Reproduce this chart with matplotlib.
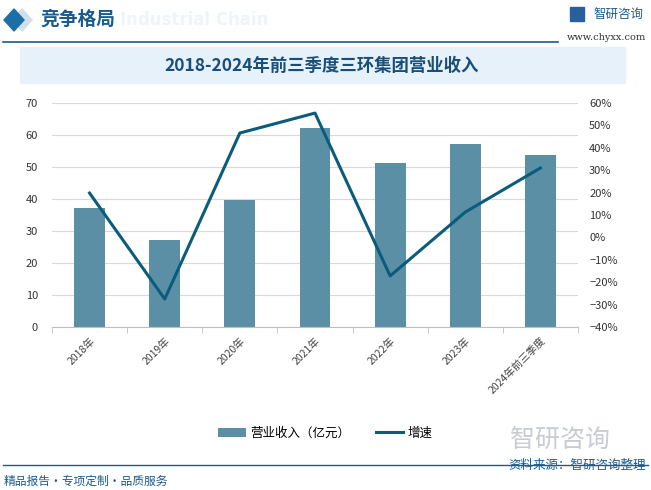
import numpy as np
import matplotlib.pyplot as plt
from matplotlib.patches import Rectangle, Polygon
from matplotlib.ticker import FuncFormatter

plt.rcParams['font.family'] = ['Noto Sans CJK SC', 'DejaVu Sans']
plt.rcParams['axes.unicode_minus'] = True

# 数据
years = ['2018年', '2019年', '2020年', '2021年', '2022年', '2023年', '2024年前三季度']
revenue = [37.2, 27.2, 39.7, 62.2, 51.3, 57.2, 53.8]
growth = [19.8, -27.5, 46.6, 55.5, -17.2, 11.3, 31.0]

bar_color = '#5b8fa6'
line_color = '#0b5c7c'
dark_blue = '#1a5b8c'

fig = plt.figure(figsize=(6.51, 4.9), dpi=100)

# 顶部标题栏
fig.patches.append(Polygon([[12/651, 1-20/490], [22/651, 1-9/490], [32/651, 1-20/490], [22/651, 1-31/490]],
                           closed=True, transform=fig.transFigure, color='#cfe0ec', zorder=1))
fig.patches.append(Polygon([[4/651, 1-20/490], [14/651, 1-9/490], [24/651, 1-20/490], [14/651, 1-31/490]],
                           closed=True, transform=fig.transFigure, color='#1b6fa6', zorder=2))
fig.text(40/651, 1-19/490, '竞争格局', fontsize=13.5, color=dark_blue, va='center', ha='left', fontweight='bold')
fig.text(120/651, 1-20/490, 'Industrial Chain', fontsize=12, color='#edf4fa', va='center', ha='left',
         fontweight='bold', family='DejaVu Sans', zorder=0)
fig.add_artist(plt.Line2D([3/651, 558/651], [1-42/490, 1-42/490], color=dark_blue, lw=1.2))
fig.text(593/651, 1-14/490, '智研咨询', fontsize=9, color=dark_blue, va='center', ha='left')
fig.patches.append(Rectangle((570/651, 1-21/490), 14/651, 14/490, transform=fig.transFigure, color='#2a5f9e'))
fig.text(567/651, 1-37/490, 'www.chyxx.com', fontsize=7, color='#333333', va='center', ha='left',
         family='DejaVu Serif')

# 图表标题
fig.patches.append(Rectangle((20/651, 1-83/490), 605/651, 36/490, transform=fig.transFigure,
                             color='#e6f1fa', zorder=0))
fig.text(322/651, 1-66/490, '2018-2024年前三季度三环集团营业收入', fontsize=12.5, color='#184f7a',
         ha='center', va='center', fontweight='bold')

# 主图
ax = fig.add_axes([52/651, 1-327/490, 526/651, 224/490])
x = np.arange(len(years))
ax.bar(x, revenue, width=0.41, color=bar_color, zorder=2, label='营业收入（亿元）')
ax.set_ylim(0, 70)
ax.set_yticks(range(0, 71, 10))
ax.set_xlim(-0.5, len(years) - 0.5)
ax.grid(axis='y', color='#d9d9d9', lw=0.8, zorder=0)
for s in ['top', 'right', 'left']:
    ax.spines[s].set_visible(False)
ax.spines['bottom'].set_color('#bfbfbf')
ax.tick_params(axis='y', length=0, labelsize=8, colors='#333333', pad=10)
ax.set_xticks(x)
ax.set_xticklabels(years, rotation=45, ha='right', rotation_mode='anchor', fontsize=7.5, color='#444444')
ax.set_xticks(np.arange(-0.5, len(years)), minor=True)
ax.tick_params(axis='x', which='major', length=0, pad=6)
ax.tick_params(axis='x', which='minor', length=4, color='#bfbfbf')

ax2 = ax.twinx()
ax2.plot(x, growth, color=line_color, lw=2.2, zorder=3, label='增速')
ax2.set_ylim(-40, 60)
ax2.set_yticks(range(-40, 61, 10))
ax2.yaxis.set_major_formatter(FuncFormatter(lambda v, p: f'{v:.0f}%'.replace('-', '\u2212')))
for s in ['top', 'right', 'left', 'bottom']:
    ax2.spines[s].set_visible(False)
ax2.tick_params(axis='y', length=0, labelsize=8, colors='#333333', pad=8)

# 图例
h1, l1 = ax.get_legend_handles_labels()
h2, l2 = ax2.get_legend_handles_labels()
fig.legend(h1 + h2, l1 + l2, loc='center', bbox_to_anchor=(0.5, 1-433/490), ncol=2, frameon=False,
           fontsize=9, handlelength=2.2, columnspacing=2.0, handletextpad=0.4)

# 底部
fig.add_artist(plt.Line2D([3/651, 648/651], [1-465/490, 1-465/490], color=dark_blue, lw=1.0))
fig.text(4/651, 1-481/490, '精品报告·专项定制·品质服务', fontsize=8.5, color=dark_blue, va='center', ha='left')
fig.text(646/651, 1-465/490, '资料来源：智研咨询整理', fontsize=9, color=dark_blue, va='center', ha='right')
fig.text(560/651, 1-440/490, '智研咨询', fontsize=18, color='#c8ccd2', va='center', ha='center', zorder=0)

fig.savefig('out.png', dpi=100)
